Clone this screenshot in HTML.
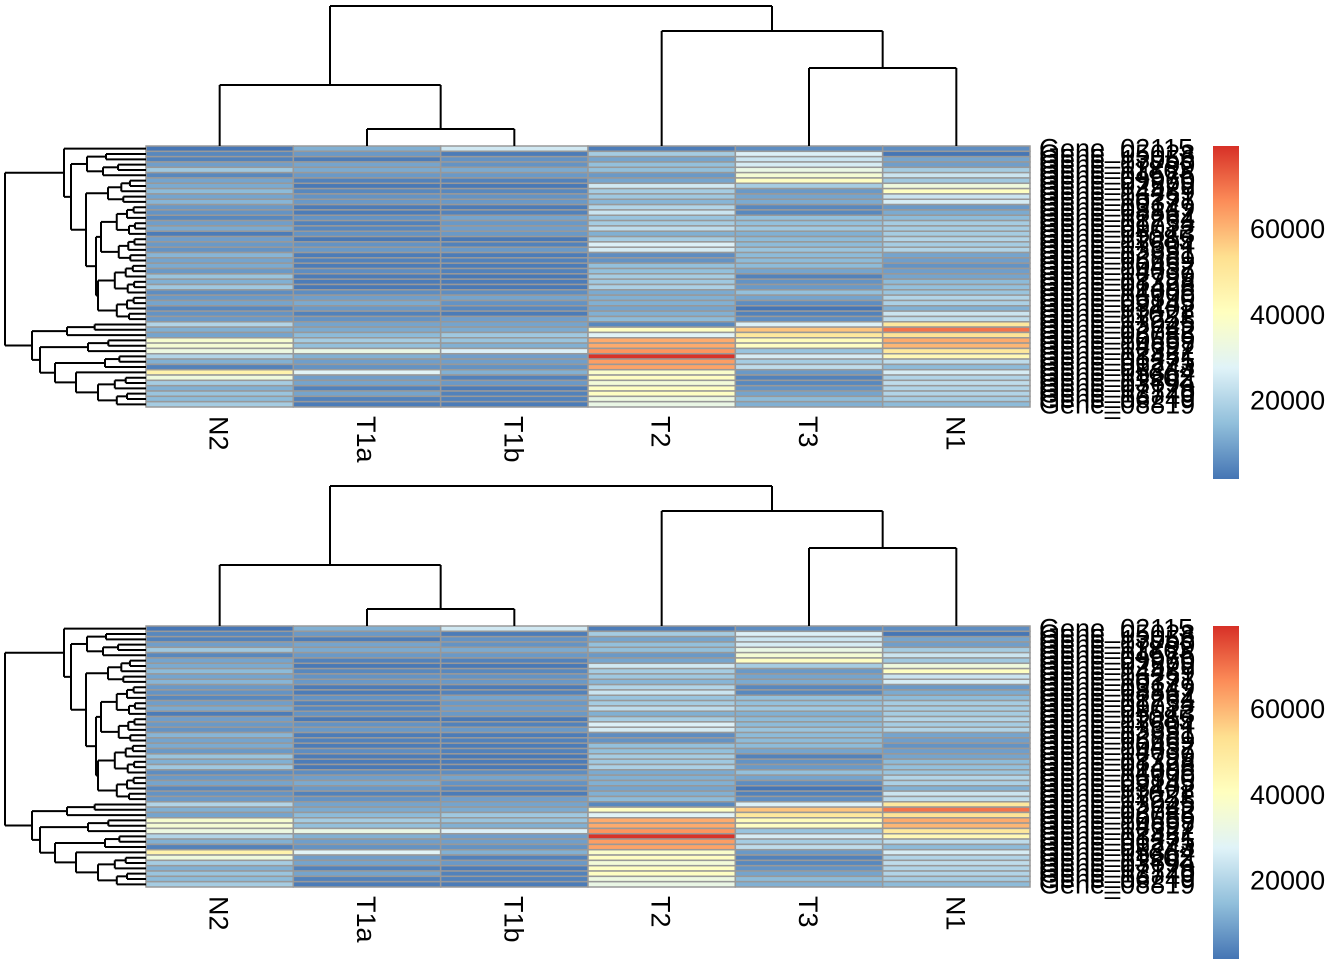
<!DOCTYPE html>
<html><head><meta charset="utf-8"><style>
body{margin:0;background:#fff;}
svg{display:block;font-family:"Liberation Sans",Arial,sans-serif;}
</style></head><body>
<svg id="chart" width="1344" height="960" viewBox="0 0 1344 960"></svg>
<script>
const samples = ["N2","T1a","T1b","T2","T3","N1"];
const geneLabels = ["Gene_02115","Gene_05028","Gene_13056","Gene_07790","Gene_11863","Gene_04576","Gene_09960","Gene_02579","Gene_14489","Gene_06251","Gene_10377","Gene_03149","Gene_08862","Gene_12264","Gene_01734","Gene_09022","Gene_05513","Gene_11085","Gene_07604","Gene_13351","Gene_02981","Gene_06669","Gene_10452","Gene_04037","Gene_12799","Gene_08328","Gene_01498","Gene_14006","Gene_05890","Gene_09145","Gene_03402","Gene_11621","Gene_07258","Gene_13045","Gene_02742","Gene_06085","Gene_10559","Gene_04697","Gene_12322","Gene_08451","Gene_01275","Gene_09243","Gene_05364","Gene_11902","Gene_03694","Gene_07129","Gene_13740","Gene_06249","Gene_08819"];
// values per row: N2, T1a, T1b, T2, T3, N1
const rowValues = [
[2000,12000,25000,3000,6000,6000],
[5000,8000,3000,18000,27000,2000],
[4000,3000,7000,10000,24000,10000],
[9000,10000,7000,15000,26000,9000],
[17000,11000,11000,15000,32000,18000],
[5000,8000,8000,8000,36000,24000],
[10000,4000,4000,10000,40000,17000],
[11000,2500,2500,25000,18000,34000],
[14000,5000,5000,18000,8000,40000],
[10000,7000,7000,17000,10000,24000],
[13000,8000,8000,13000,11000,26000],
[8000,3000,3000,20000,5000,8000],
[7000,3000,4000,24000,5000,11000],
[5000,7000,10000,16000,15000,14000],
[9000,4000,8000,18000,15000,18000],
[11000,5000,9000,22000,17000,18000],
[3000,7000,8000,12000,12000,18000],
[9000,2500,2500,18000,14000,20000],
[8000,7000,4000,27000,14000,18000],
[7000,8000,8000,26000,16000,20000],
[13000,3000,3000,6000,14000,10000],
[10000,4000,4000,7000,14000,9000],
[11000,3000,3000,15000,14000,7000],
[8000,6000,4000,15000,10000,9000],
[16000,3000,2500,18000,4000,10000],
[12000,3000,3000,17000,7000,14000],
[17000,2500,2500,19000,8000,15000],
[6000,6000,6000,11000,15000,16000],
[8000,9000,10000,12000,10000,20000],
[10000,11000,7000,12000,6000,19000],
[5000,8000,5000,10000,2000,12000],
[7000,4000,3000,12000,4000,24000],
[8000,7000,9000,14000,6000,22000],
[20000,10000,10000,5000,27000,50000],
[12000,11000,11000,40000,58000,70000],
[10000,14000,17000,28000,50000,52000],
[37000,18000,16000,62000,42000,62000],
[36000,15000,12000,62000,40000,60000],
[33000,32000,27000,65000,16000,50000],
[20000,12000,9000,79000,26000,43000],
[12000,9000,9000,64000,18000,22000],
[4000,7000,7000,63000,22000,14000],
[46000,28000,12000,38000,8000,26000],
[34000,9000,4000,40000,4000,20000],
[18000,10000,8000,35000,5000,22000],
[12000,4000,3000,40000,7000,20000],
[16000,10000,4000,40000,10000,20000],
[14000,4000,4000,33000,14000,18000],
[18000,3000,3000,32000,12000,14000]
];
const legendTicks = [20000,40000,60000];
const vMin = 1750, vMax = 79400;

const NS="http://www.w3.org/2000/svg";
const svg=document.getElementById('chart');
const stops=["#4575B4","#91BFDB","#E0F3F8","#FFFFBF","#FEE090","#FC8D59","#D73027"];
function hex(c){return [parseInt(c.slice(1,3),16),parseInt(c.slice(3,5),16),parseInt(c.slice(5,7),16)];}
function color(v){let t=(v-vMin)/(vMax-vMin);t=Math.max(0,Math.min(1,t));const p=t*6;const i=Math.min(5,Math.floor(p));const f=p-i;const a=hex(stops[i]),b=hex(stops[i+1]);return `rgb(${a.map((x,k)=>Math.round(x+(b[k]-x)*f)).join(',')})`;}
function mk(tag,attrs,parent){const e=document.createElementNS(NS,tag);for(const k in attrs)e.setAttribute(k,attrs[k]);(parent||svg).appendChild(e);return e;}

const X0=146,X1=1030,cw=(X1-X0)/samples.length;
const nR=rowValues.length;
const colX=i=>X0+cw*i;
const colC=i=>X0+cw*(i+0.5);

function auto(lo,hi,h){if(lo===hi)return lo;const m=Math.floor((lo+hi)/2);const ch=h+(146-h)*0.35;return {h:h,c:[auto(lo,m,ch),auto(m+1,hi,ch+2)]};}
const rowTree={h:5,c:[
 {h:64,c:[0,{h:71,c:[{h:87,c:[auto(1,2,106),auto(3,5,103)]},{h:86,c:[auto(6,10,108),{h:96,c:[auto(11,21,101),auto(22,32,98)]}]}]}]},
 {h:32,c:[auto(33,35,67),{h:40,c:[auto(36,38,88),{h:55,c:[auto(39,41,105),{h:76,c:[42,auto(43,48,98)]}]}]}]}
]};

function drawPanel(oy,idx){
  const Y0=146+oy,Y1=407+oy,rh=(Y1-Y0)/nR;
  const rowY=r=>Y0+rh*r;
  const g=mk('g',{});
  
  
  for(let r=0;r<nR;r++){for(let c=0;c<samples.length;c++){
    const cell=mk('rect',{x:colX(c),y:rowY(r),width:cw,height:rh,fill:color(rowValues[r][c]),stroke:'#999999','stroke-width':1.5},g);
    
    
  }}
  const cd=mk('g',{stroke:'#000','stroke-width':2,fill:'none'});
  
  
  const segs=[[colC(1),129,colC(2),129],[colC(1),129,colC(1),146],[colC(2),129,colC(2),146],
   [colC(0),85,(colC(1)+colC(2))/2,85],[colC(0),85,colC(0),146],[(colC(1)+colC(2))/2,85,(colC(1)+colC(2))/2,129],
   [colC(4),68,colC(5),68],[colC(4),68,colC(4),146],[colC(5),68,colC(5),146],
   [colC(3),31,(colC(4)+colC(5))/2,31],[colC(3),31,colC(3),146],[(colC(4)+colC(5))/2,31,(colC(4)+colC(5))/2,68],
   [330,6,772,6],[330,6,330,85],[772,6,772,31]];
  segs.forEach(s=>mk('line',{x1:s[0],y1:s[1]+oy,x2:s[2],y2:s[3]+oy},cd));
  const rd=mk('g',{stroke:'#000','stroke-width':2,fill:'none'});
  
  
  function draw(n){if(typeof n==='number')return {x:146,y:rowY(n)+rh/2};
    const a=draw(n.c[0]),b=draw(n.c[1]);
    mk('line',{x1:n.h,y1:a.y,x2:n.h,y2:b.y},rd);
    mk('line',{x1:n.h,y1:a.y,x2:a.x,y2:a.y},rd);
    mk('line',{x1:n.h,y1:b.y,x2:b.x,y2:b.y},rd);
    return {x:n.h,y:(a.y+b.y)/2};}
  draw(rowTree);
  for(let r=0;r<nR;r++){const t=mk('text',{x:1039,y:rowY(r)+rh/2+9,'font-size':27,fill:'#000'});t.textContent=geneLabels[r];
    }
  samples.forEach((s,i)=>{const x=colC(i)-10,y=416+oy;const t=mk('text',{x:x,y:y,'font-size':27,transform:`rotate(90 ${x} ${y})`,fill:'#000'});t.textContent=s;
    });
  const gid='grad'+idx;
  const defs=mk('defs',{});
  const lg=mk('linearGradient',{id:gid,x1:0,y1:1,x2:0,y2:0},defs);
  stops.forEach((c,i)=>mk('stop',{offset:i/6,'stop-color':c},lg));
  const LY0=146+oy,LY1=479+oy;
  const lr=mk('rect',{x:1213,y:LY0,width:26,height:LY1-LY0,fill:`url(#${gid})`});
  
  const ly=v=>LY1-(v-vMin)/(vMax-vMin)*(LY1-LY0);
  legendTicks.forEach(v=>{const t=mk('text',{x:1250,y:ly(v)+9,'font-size':27,fill:'#000'});t.textContent=String(v);
    });
}
drawPanel(0,1);
drawPanel(480,2);
</script>
</body></html>
